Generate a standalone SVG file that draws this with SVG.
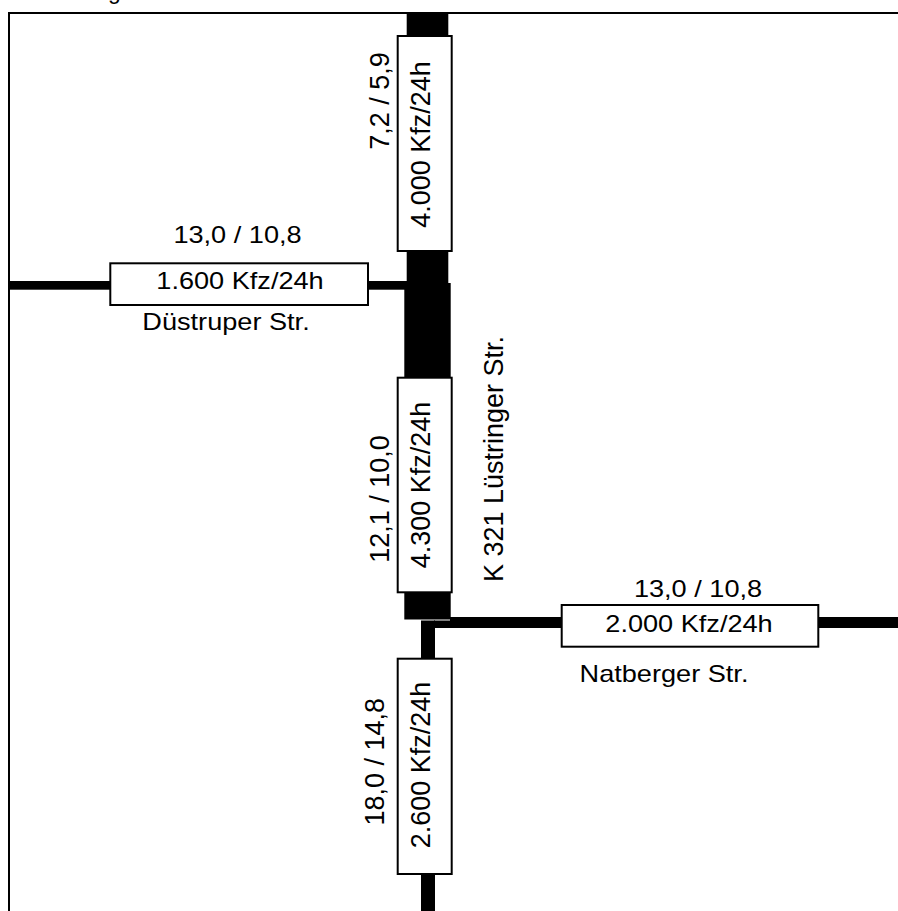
<svg xmlns="http://www.w3.org/2000/svg" width="898" height="911" viewBox="0 0 898 911">
  <style>
    .road { fill: #000; }
    .box { fill: #fff; stroke: #000; stroke-width: 2; }
    .frame { stroke: #000; stroke-width: 2; fill: none; }
    .t { font-family: "Liberation Sans", Arial, sans-serif; fill: #000; }
    .h { font-size: 23px; text-anchor: middle; }
    .v { font-size: 27px; text-anchor: middle; }
  </style>
  <rect width="898" height="911" fill="#fff"/>
  <text class="t" x="108" y="-1" font-size="23">g</text>
  <g id="frame">
    <line class="frame" x1="8" y1="13" x2="898" y2="13"/>
    <line class="frame" x1="9" y1="12" x2="9" y2="911"/>
  </g>
  <g id="connectors">
    <rect class="road" x="406.7" y="13" width="41.6" height="23"/>
    <rect class="road" x="406.7" y="251" width="41.6" height="34"/>
    <rect class="road" x="404.3" y="283" width="46.4" height="95"/>
    <rect class="road" x="404.3" y="592" width="46.4" height="27.5"/>
    <rect class="road" x="9" y="281" width="101" height="8.7"/>
    <rect class="road" x="368" y="281" width="40" height="8.7"/>
    <rect class="road" x="450" y="617" width="112" height="11"/>
    <rect class="road" x="818" y="617" width="80" height="11"/>
    <rect class="road" x="421" y="620.5" width="14" height="38"/>
    <rect class="road" x="434" y="620.5" width="17" height="7.5"/>
    <rect class="road" x="421" y="874" width="14" height="37"/>
  </g>
  <g id="node-north">
    <rect class="box" x="397.7" y="36" width="54" height="215"/>
    <text class="t v" transform="translate(430,144.5) rotate(-90)">4.000 Kfz/24h</text>
    <text class="t v" transform="translate(389,101) rotate(-90)">7,2 / 5,9</text>
  </g>
  <g id="node-west">
    <rect class="box" x="110.3" y="263.3" width="257.7" height="41.7"/>
    <text class="t h" transform="translate(240,289) scale(1.18,1)">1.600 Kfz/24h</text>
    <text class="t h" transform="translate(237.5,243.3) scale(1.18,1)">13,0 / 10,8</text>
    <text class="t h" transform="translate(226,330) scale(1.18,1)">Düstruper Str.</text>
  </g>
  <g id="node-center">
    <rect class="box" x="397.7" y="377.7" width="54" height="214.6"/>
    <text class="t v" transform="translate(430,485) rotate(-90)">4.300 Kfz/24h</text>
    <text class="t v" transform="translate(389,499) rotate(-90)">12,1 / 10,0</text>
    <text class="t v" transform="translate(503,459) rotate(-90)">K 321 Lüstringer Str.</text>
  </g>
  <g id="node-east">
    <rect class="box" x="561.7" y="605" width="256.6" height="41.7"/>
    <text class="t h" transform="translate(689,631.7) scale(1.18,1)">2.000 Kfz/24h</text>
    <text class="t h" transform="translate(698,597) scale(1.18,1)">13,0 / 10,8</text>
    <text class="t h" transform="translate(664,681.7) scale(1.18,1)">Natberger Str.</text>
  </g>
  <g id="node-south">
    <rect class="box" x="397.7" y="658.7" width="54" height="215.3"/>
    <text class="t v" transform="translate(430,765) rotate(-90)">2.600 Kfz/24h</text>
    <text class="t v" transform="translate(384,761.7) rotate(-90)">18,0 / 14,8</text>
  </g>
</svg>
